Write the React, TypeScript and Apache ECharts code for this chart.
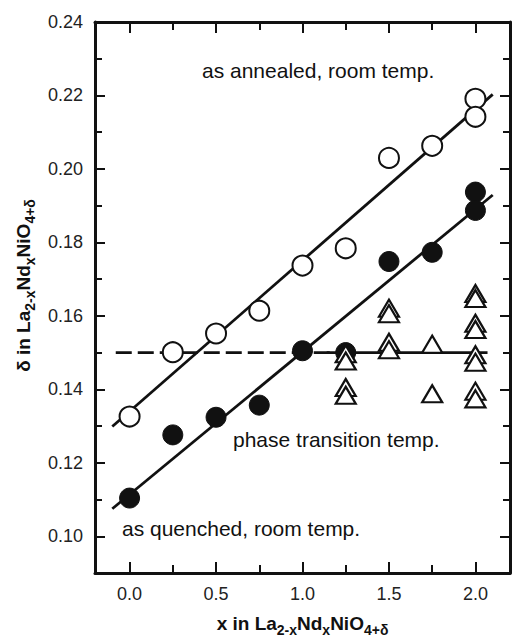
import React, { useEffect, useRef } from "react";
import * as echarts from "echarts";

// ---- data ----
const annealedX = [0, 0.25, 0.5, 0.75, 1.0, 1.25, 1.5, 1.75, 2.0, 2.0];
const annealedY = [0.1326, 0.1501, 0.1552, 0.1614, 0.1737, 0.1784, 0.203, 0.2063, 0.2191, 0.2142];

const quenchedX = [0, 0.25, 0.5, 0.75, 1.0, 1.25, 1.5, 1.75, 2.0, 2.0];
const quenchedY = [0.1104, 0.1276, 0.1324, 0.1357, 0.1505, 0.15, 0.1748, 0.1773, 0.1937, 0.1887];

const transitionX = [1.25, 1.25, 1.25, 1.25, 1.5, 1.5, 1.5, 1.5, 1.75, 1.75, 2.0, 2.0, 2.0, 2.0, 2.0, 2.0, 2.0, 2.0];
const transitionY = [0.1497, 0.1477, 0.1405, 0.1384, 0.1621, 0.1606, 0.1528, 0.1508, 0.1523, 0.1388, 0.1661, 0.1647, 0.158, 0.1563, 0.1494, 0.1474, 0.1395, 0.1374];

const annealedFitX = [-0.1, 2.1];
const annealedFitY = [0.1299, 0.2203];
const quenchedFitX = [-0.1, 2.1];
const quenchedFitY = [0.1075, 0.1929];
const phaseDashX = [-0.08, 1.16];
const phaseDashY = [0.15, 0.15];
const phaseSolidX = [1.14, 2.07];
const phaseSolidY = [0.15, 0.15];

const xTicks = [0, 0.5, 1.0, 1.5, 2.0];
const xMinorTicks = [0.25, 0.75, 1.25, 1.75];
const yTicks = [0.1, 0.12, 0.14, 0.16, 0.18, 0.2, 0.22, 0.24];
const yMinorTicks = [0.11, 0.13, 0.15, 0.17, 0.19, 0.21, 0.23];

const X_MIN = -0.2;
const X_MAX = 2.2;
const Y_MIN = 0.09;
const Y_MAX = 0.24;

const FONT = "'Liberation Sans', Arial, Helvetica, sans-serif";
const INK = "#111";

const zip = (xs: number[], ys: number[]) => xs.map((x, i) => [x, ys[i]]);

export default function App() {
  const ref = useRef<HTMLDivElement>(null);

  useEffect(() => {
    if (!ref.current) return;
    const chart = echarts.init(ref.current, null, { renderer: "svg" });

    const baseX = (position: "top" | "bottom", major: boolean, showLine: boolean, showLabel: boolean) => ({
      type: "value",
      position,
      min: X_MIN,
      max: X_MAX,
      axisLine: { show: showLine, onZero: false, lineStyle: { color: INK, width: 3 } },
      axisTick: {
        show: true,
        inside: true,
        length: major ? 11 : 8,
        customValues: major ? xTicks : xMinorTicks,
        lineStyle: { color: INK, width: 2 },
      },
      axisLabel: {
        show: showLabel,
        customValues: xTicks,
        margin: 12,
        fontSize: 18,
        fontFamily: FONT,
        color: "#222",
        formatter: (v: number) => v.toFixed(1),
      },
      splitLine: { show: false },
    });

    const baseY = (position: "left" | "right", major: boolean, showLine: boolean, showLabel: boolean) => ({
      type: "value",
      position,
      min: Y_MIN,
      max: Y_MAX,
      axisLine: { show: showLine, onZero: false, lineStyle: { color: INK, width: 3 } },
      axisTick: {
        show: true,
        inside: true,
        length: major ? 10 : 7,
        customValues: major ? yTicks : yMinorTicks,
        lineStyle: { color: INK, width: 2 },
      },
      axisLabel: {
        show: showLabel,
        customValues: yTicks,
        margin: 12,
        fontSize: 18,
        fontFamily: FONT,
        color: "#222",
        formatter: (v: number) => v.toFixed(2),
      },
      splitLine: { show: false },
    });

    const richTitle = {
      b: { fontSize: 19, fontWeight: "bold", fontFamily: FONT, color: INK, lineHeight: 22 },
      s: { fontSize: 14, fontWeight: "bold", fontFamily: FONT, color: INK, lineHeight: 14, padding: [14, 0, 0, 0] },
    };

    const xMain: any = baseX("bottom", true, true, true);
    xMain.name = "{b|x in La}{s|2-x}{b|Nd}{s|x}{b|NiO}{s|4+δ}";
    xMain.nameLocation = "middle";
    xMain.nameGap = 39;
    xMain.nameTextStyle = { rich: richTitle };

    const yMain: any = baseY("left", true, true, true);
    yMain.name = "{b|δ in La}{s|2-x}{b|Nd}{s|x}{b|NiO}{s|4+δ}";
    yMain.nameLocation = "middle";
    yMain.nameGap = 58;
    yMain.nameTextStyle = { padding: [0, 0, 0, 24], rich: richTitle };

    const lineSeries = (xs: number[], ys: number[], dashed: boolean) => ({
      type: "line",
      data: zip(xs, ys),
      showSymbol: false,
      symbol: "none",
      z: 1,
      lineStyle: { color: INK, width: 2.8, type: dashed ? [16, 6] : "solid" },
      silent: true,
    });

    const option: any = {
      animation: false,
      grid: { left: 95, right: 2, top: 22, bottom: 64, containLabel: false },
      xAxis: [
        xMain,
        baseX("top", true, true, false),
        baseX("bottom", false, false, false),
        baseX("top", false, false, false),
      ],
      yAxis: [
        yMain,
        baseY("right", true, true, false),
        baseY("left", false, false, false),
        baseY("right", false, false, false),
      ],
      series: [
        lineSeries(annealedFitX, annealedFitY, false),
        lineSeries(quenchedFitX, quenchedFitY, false),
        lineSeries(phaseDashX, phaseDashY, true),
        lineSeries(phaseSolidX, phaseSolidY, false),
        {
          type: "scatter",
          name: "as annealed",
          data: zip(annealedX, annealedY),
          symbol: "circle",
          symbolSize: 20,
          z: 3,
          itemStyle: { color: "#fff", borderColor: INK, borderWidth: 2, opacity: 1 },
        },
        {
          type: "scatter",
          name: "as quenched",
          data: zip(quenchedX, quenchedY),
          symbol: "circle",
          symbolSize: 20,
          z: 3,
          itemStyle: { color: INK, borderColor: INK, borderWidth: 1, opacity: 1 },
        },
        {
          type: "scatter",
          name: "phase transition",
          data: zip(transitionX, transitionY),
          symbol: "triangle",
          symbolSize: [20, 17],
          z: 4,
          itemStyle: { color: "#fff", borderColor: INK, borderWidth: 2.2, opacity: 1 },
        },
      ],
      graphic: [
        {
          type: "text",
          left: 202,
          top: 60,
          style: { text: "as annealed, room temp.", fontSize: 21, fontFamily: FONT, fill: INK },
        },
        {
          type: "text",
          left: 233,
          top: 429,
          style: { text: "phase transition temp.", fontSize: 21, fontFamily: FONT, fill: INK },
        },
        {
          type: "text",
          left: 122,
          top: 518,
          style: { text: "as quenched, room temp.", fontSize: 21, fontFamily: FONT, fill: INK },
        },
      ],
    };

    chart.setOption(option);
    return () => chart.dispose();
  }, []);

  return (
    <div
      ref={ref}
      style={{ position: "absolute", left: 0, top: 0, width: 512, height: 642, background: "#fff" }}
    />
  );
}
